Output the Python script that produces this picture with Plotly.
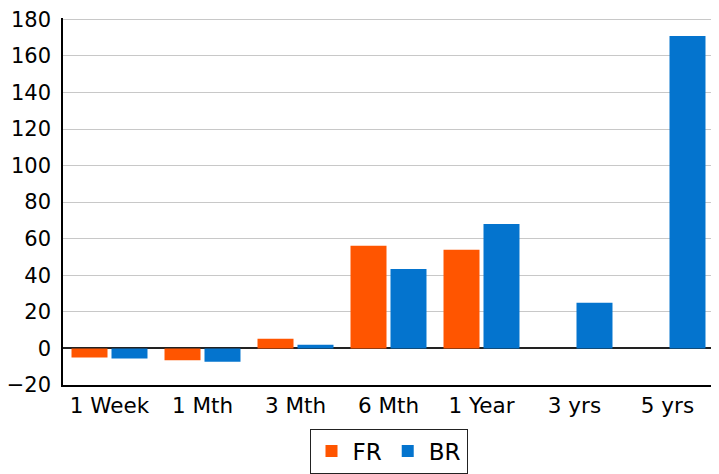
import plotly.graph_objects as go

categories = ["1 Week", "1 Mth", "3 Mth", "6 Mth", "1 Year", "3 yrs", "5 yrs"]
fr_values = [-4.9, -6.5, 5.3, 56.1, 53.9, None, None]
br_values = [-5.5, -7.3, 2.0, 43.5, 68.1, 25.0, 170.9]
y_ticks = [-20, 0, 20, 40, 60, 80, 100, 120, 140, 160, 180]

font_family = "DejaVu Sans, Verdana, sans-serif"

fig = go.Figure()
fig.add_trace(go.Bar(name="FR", x=categories, y=fr_values, marker=dict(color="#FF5500", line=dict(width=0))))
fig.add_trace(go.Bar(name="BR", x=categories, y=br_values, marker=dict(color="#0474CE", line=dict(width=0))))

fig.update_layout(
    width=711, height=466,
    margin=dict(l=55, r=5, t=10, b=89, autoexpand=False),
    paper_bgcolor="white", plot_bgcolor="white",
    barmode="group", bargap=0.14, bargroupgap=0.1,
    font=dict(family=font_family, size=21, color="#000000"),
    showlegend=True,
    legend=dict(
        orientation="h", x=0.5, xanchor="center", y=-0.119, yanchor="top",
        bordercolor="#222222", borderwidth=1, font=dict(size=23),
        itemsizing="constant", traceorder="normal", itemwidth=32,
    ),
    xaxis=dict(
        showline=True, linecolor="#000000", linewidth=1.5, automargin=False,
        showgrid=False, ticks="", tickfont=dict(size=21.5),
    ),
    yaxis=dict(
        range=[-20, 180.7], tickvals=y_ticks, showline=True, mirror=True,
        linecolor="#000000", linewidth=1.5, automargin=False,
        showgrid=True, gridcolor="#c8c8c8", gridwidth=1,
        zeroline=True, zerolinecolor="#222222", zerolinewidth=1.5,
        ticks="", tickfont=dict(size=21), ticklabelstandoff=6,
        ticklabeloverflow="allow",
    ),
)

fig.write_html("out.html")
